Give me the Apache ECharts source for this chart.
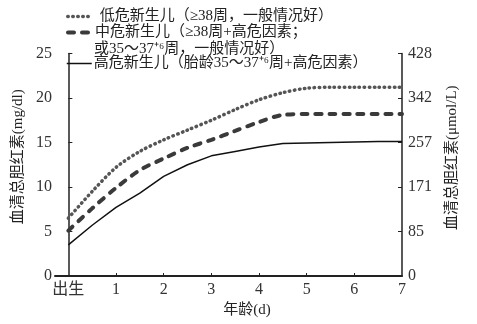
<!DOCTYPE html>
<html><head><meta charset="utf-8">
<script src="https://cdn.jsdelivr.net/npm/echarts@6/dist/echarts.min.js"></script>
<style>html,body{margin:0;padding:0;background:#fff}#c{width:477px;height:324px}</style>
</head><body><div id="c"></div>
<script>
// ---- data ----
const days = [0, 0.5, 1, 1.5, 2, 2.5, 3, 3.5, 4, 4.5, 5, 5.5, 6, 6.5, 7];
const lowRisk  = [6.5, 9.5, 12.2, 14.0, 15.3, 16.4, 17.5, 18.7, 19.8, 20.6, 21.1, 21.2, 21.2, 21.2, 21.2];
const midRisk  = [5.1, 7.6, 9.9, 11.9, 13.2, 14.4, 15.3, 16.3, 17.3, 18.1, 18.2, 18.2, 18.2, 18.2, 18.2];
const highRisk = [3.5, 5.7, 7.7, 9.3, 11.2, 12.5, 13.5, 14.0, 14.5, 14.9, 14.95, 15.0, 15.05, 15.1, 15.1];
const xTickValues = [0, 1, 2, 3, 4, 5, 6, 7];
const xTickLabels = ['出生', '1', '2', '3', '4', '5', '6', '7'];
const leftTickLabels = ['0', '5', '10', '15', '20', '25'];
const rightTickLabels = ['0', '85', '171', '257', '342', '428'];
const seriesNames = ['低危新生儿（≥38周，一般情况好）', '中危新生儿（≥38周+高危因素；', '高危新生儿（胎龄35～37⁺⁶周+高危因素）'];
const seriesNameCont = '或35～37⁺⁶周，一般情况好）';
const leftAxisName = '血清总胆红素(mg/dl)';
const rightAxisName = '血清总胆红素(μmol/L)';
const xAxisName = '年龄(d)';

const pairs = arr => days.map((d, i) => [d, arr[i]]);
const FONT = '"Liberation Serif", "Noto Sans CJK SC", serif';
const styles = [
  { color: '#555', width: 3.5, type: [0.5, 4.5], cap: 'round' },
  { color: '#3a3a3a', width: 4, type: [6, 8], cap: 'round' },
  { color: '#111', width: 1.5, type: 'solid', cap: 'butt' }
];
const legendTops = [9, 25, 56];
const chart = echarts.init(document.getElementById('c'), null, { renderer: 'canvas' });
chart.setOption({
  animation: false,
  backgroundColor: '#fff',
  textStyle: { fontFamily: FONT },
  grid: { left: 55, right: 75, top: 53.5, bottom: 48, containLabel: false },
  legend: seriesNames.map((n, i) => ({
    data: [n], left: 66, top: legendTops[i], orient: 'vertical', padding: 0,
    itemWidth: 25, itemHeight: 14, itemGap: 0,
    itemStyle: { opacity: 0 },
    lineStyle: { width: styles[i].width, type: styles[i].type, cap: styles[i].cap, color: styles[i].color, opacity: 1 },
    textStyle: { fontFamily: FONT, fontSize: 15, color: '#222', padding: i === 0 ? [0,0,0,2] : [0,0,0,-3] }
  })),
  graphic: [{
    type: 'text', left: 94, top: 42,
    style: { text: seriesNameCont, font: '15px ' + FONT, fill: '#222' }
  }],
  xAxis: {
    type: 'value', min: -0.28, max: 7,
    name: xAxisName, nameLocation: 'middle', nameGap: 21,
    nameTextStyle: { fontSize: 15, color: '#222', fontFamily: FONT, padding: [0, 0, 0, 37] },
    axisLine: { lineStyle: { color: '#222', width: 2 } },
    axisTick: { show: true, inside: true, length: 3, customValues: [1, 2, 3, 4, 5, 6], lineStyle: { color: '#222' } },
    axisLabel: { customValues: xTickValues, formatter: v => xTickLabels[xTickValues.indexOf(Math.round(v))] ?? '', fontSize: 16, color: '#333', margin: 6, fontFamily: FONT },
    splitLine: { show: false }
  },
  yAxis: [{
    type: 'value', min: 0, max: 25, interval: 5, position: 'left',
    name: leftAxisName, nameLocation: 'middle', nameRotate: 90, nameGap: 29,
    nameTextStyle: { fontSize: 15, color: '#222', fontFamily: FONT, padding: [0, 0, 0, 16] },
    axisLine: { show: true, lineStyle: { color: '#222', width: 1.5 } },
    axisTick: { show: true, inside: true, length: 4, lineStyle: { color: '#222' } },
    axisLabel: { formatter: (v) => leftTickLabels[Math.round(v / 5)], fontSize: 16, color: '#333', margin: 3, fontFamily: FONT },
    splitLine: { show: false }
  }, {
    type: 'value', min: 0, max: 25, interval: 5, position: 'right',
    name: rightAxisName, nameLocation: 'middle', nameRotate: 90, nameGap: 43,
    nameTextStyle: { fontSize: 15, color: '#222', fontFamily: FONT, padding: [0, 0, 0, 14] },
    axisLine: { show: true, lineStyle: { color: '#222', width: 1.5 } },
    axisTick: { show: true, inside: true, length: 4, lineStyle: { color: '#222' } },
    axisLabel: { formatter: (v) => rightTickLabels[Math.round(v / 5)], fontSize: 16, color: '#333', margin: 6, fontFamily: FONT },
    splitLine: { show: false }
  }],
  series: [lowRisk, midRisk, highRisk].map((arr, i) => ({
    name: seriesNames[i], type: 'line', data: pairs(arr), symbol: 'none', smooth: i < 2 ? 0.3 : false,
    lineStyle: { color: styles[i].color, width: styles[i].width, type: styles[i].type, cap: styles[i].cap },
    itemStyle: { color: styles[i].color }
  }))
});
</script></body></html>
